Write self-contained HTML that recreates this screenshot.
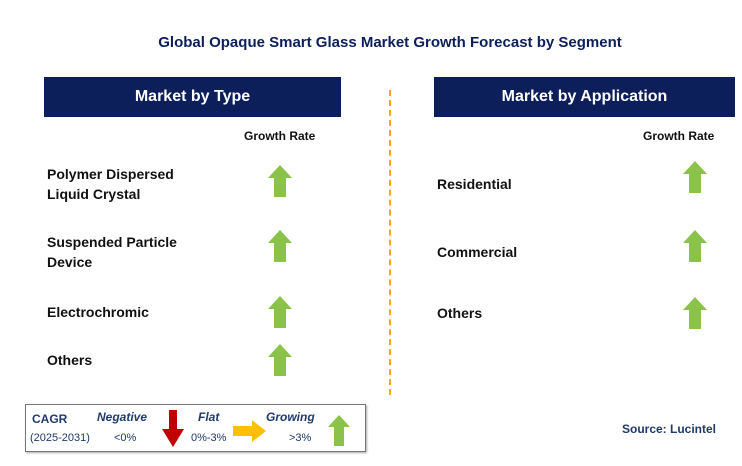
<!DOCTYPE html>
<html><head><meta charset="utf-8"><style>
body{margin:0;width:742px;height:466px;background:#fff;font-family:"Liberation Sans",Arial,sans-serif;position:relative;overflow:hidden}
.a{position:absolute}
.t{font-weight:bold;font-size:14px;color:#111;line-height:20px}
.hdr{position:absolute;background:#0c1f5b;color:#fff;font-weight:bold;font-size:16px;text-align:center;line-height:40px;height:40px;top:77px}
.gr{font-weight:bold;font-size:12px;color:#111}
</style></head><body>
<div class="a" style="left:0;width:780px;top:34px;text-align:center;font-weight:bold;font-size:15px;color:#0c1f5b">Global Opaque Smart Glass Market Growth Forecast by Segment</div>
<div class="hdr" style="left:44px;width:297px">Market by Type</div>
<div class="hdr" style="left:434px;width:301px">Market by Application</div>
<div class="a" style="left:389px;top:90px;height:305px;border-left:2px dashed #f5a623"></div>
<div class="a gr" style="left:244px;top:129px">Growth Rate</div>
<div class="a gr" style="left:643px;top:129px">Growth Rate</div>
<div class="a t" style="left:47px;top:164px">Polymer Dispersed<br>Liquid Crystal</div>
<div class="a t" style="left:47px;top:232px">Suspended Particle<br>Device</div>
<div class="a t" style="left:47px;top:302px">Electrochromic</div>
<div class="a t" style="left:47px;top:350px">Others</div>
<div class="a t" style="left:437px;top:174px">Residential</div>
<div class="a t" style="left:437px;top:242px">Commercial</div>
<div class="a t" style="left:437px;top:303px">Others</div>
<svg class="a" style="left:0;top:0" width="742" height="466">
<defs><polygon id="up" points="0,-16 12,-3 6,-3 6,16 -6,16 -6,-3 -12,-3" fill="#8bc34a"/></defs>
<use href="#up" x="280" y="181"/>
<use href="#up" x="280" y="246"/>
<use href="#up" x="280" y="312"/>
<use href="#up" x="280" y="360"/>
<use href="#up" x="695" y="177"/>
<use href="#up" x="695" y="246"/>
<use href="#up" x="695" y="313"/>
</svg>
<div class="a" style="left:25px;top:404px;width:339px;height:46px;border:1px solid #777;box-shadow:1px 1px 2px #aaa">
<div class="a" style="left:6px;top:7px;font-weight:bold;font-size:12px;color:#1f3a6b">CAGR</div>
<div class="a" style="left:4px;top:27px;font-size:11px;color:#1f3a6b">(2025-2031)</div>
<div class="a" style="left:71px;top:5px;font-weight:bold;font-style:italic;font-size:12px;color:#1f3a6b">Negative</div>
<div class="a" style="left:88px;top:27px;font-size:11px;color:#1f3a6b">&lt;0%</div>
<div class="a" style="left:172px;top:5px;font-weight:bold;font-style:italic;font-size:12px;color:#1f3a6b">Flat</div>
<div class="a" style="left:165px;top:27px;font-size:11px;color:#1f3a6b">0%-3%</div>
<div class="a" style="left:240px;top:5px;font-weight:bold;font-style:italic;font-size:12px;color:#1f3a6b">Growing</div>
<div class="a" style="left:263px;top:27px;font-size:11px;color:#1f3a6b">&gt;3%</div>
<svg class="a" style="left:0;top:0" width="339" height="46">
<polygon points="143,5 151,5 151,24 158,24 147,42 136,24 143,24" fill="#c00000"/>
<polygon points="207,21 226,21 226,15 240,26 226,37 226,31 207,31" fill="#ffc000"/>
<polygon points="313,10 324,22 318,22 318,41 308,41 308,22 302,22" fill="#8bc34a"/>
</svg></div>
<div class="a" style="left:622px;top:422px;font-weight:bold;font-size:12px;color:#1f3a6b">Source: Lucintel</div>
</body></html>
